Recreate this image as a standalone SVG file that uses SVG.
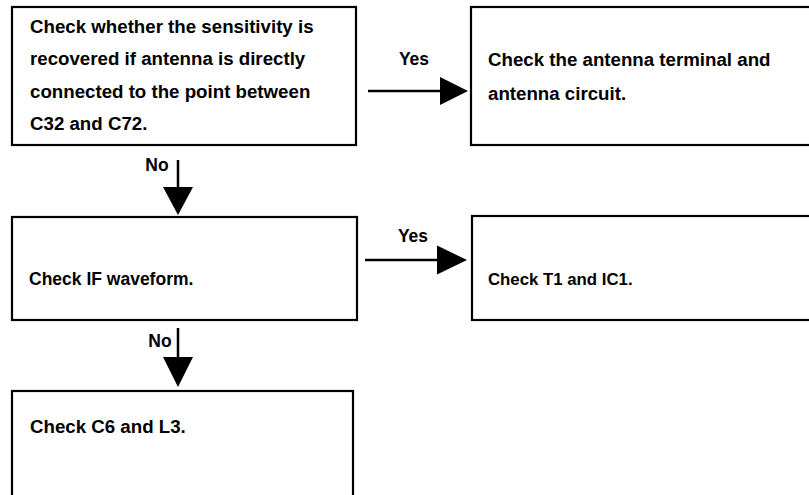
<svg xmlns="http://www.w3.org/2000/svg" width="809" height="495" viewBox="0 0 809 495">
<style>
.box{fill:#fff;stroke:#000;stroke-width:2.2}
.t{font-family:"Liberation Sans",Arial,sans-serif;font-weight:bold;font-size:18.7px;fill:#000}
.lbl{font-family:"Liberation Sans",Arial,sans-serif;font-weight:bold;font-size:17.5px;fill:#000;text-anchor:middle}
.ln{stroke:#000;stroke-width:2.5;fill:none}
.ah{fill:#000}
</style>
<rect width="809" height="495" fill="#fff"/>
<g id="n1">
<rect class="box" x="12" y="7" width="344" height="138"/>
<text class="t" x="30" y="32.5">Check whether the sensitivity is</text>
<text class="t" x="30" y="65">recovered if antenna is directly</text>
<text class="t" x="30" y="97.5">connected to the point between</text>
<text class="t" x="30" y="130">C32 and C72.</text>
</g>
<g id="n2">
<rect class="box" x="471" y="7" width="360" height="138"/>
<text class="t" x="488" y="65.5">Check the antenna terminal and</text>
<text class="t" x="488" y="99.5">antenna circuit.</text>
</g>
<g id="n3">
<rect class="box" x="12" y="217" width="345" height="103"/>
<text class="t" x="29" y="284.5" style="font-size:17.5px">Check IF waveform.</text>
</g>
<g id="n4">
<rect class="box" x="472" y="216" width="360" height="104"/>
<text class="t" x="488" y="284.5" style="font-size:16.8px">Check T1 and IC1.</text>
</g>
<g id="n5">
<rect class="box" x="12" y="391" width="341" height="120"/>
<text class="t" x="30" y="432.5">Check C6 and L3.</text>
</g>
<g id="connectors">
<line class="ln" x1="368" y1="91" x2="442" y2="91"/>
<polygon class="ah" points="440,77 468,91 440,105"/>
<text class="lbl" x="414" y="65">Yes</text>
<line class="ln" x1="178" y1="160" x2="178" y2="189"/>
<polygon class="ah" points="163,187 193,187 178,215"/>
<text class="lbl" x="157" y="171">No</text>
<line class="ln" x1="365" y1="260" x2="439" y2="260"/>
<polygon class="ah" points="437,245.5 467,260 437,274.5"/>
<text class="lbl" x="413" y="242">Yes</text>
<line class="ln" x1="178" y1="328" x2="178" y2="359"/>
<polygon class="ah" points="163,357 193,357 178,387"/>
<text class="lbl" x="160" y="347">No</text>
</g>
</svg>
